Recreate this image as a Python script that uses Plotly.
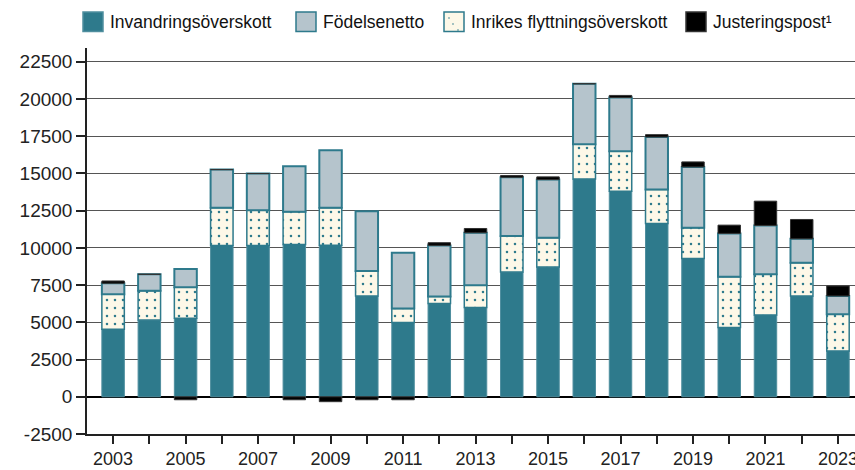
import plotly.graph_objects as go

years = list(range(2003, 2024))
invandring = [4530, 5150, 5270, 10165, 10165, 10230, 10180, 6770, 4985, 6255, 5990,
              8375, 8710, 14630, 13800, 11640, 9290, 4650, 5495, 6770, 3080]
fodelse = [740, 1105, 1230, 2565, 2460, 3060, 3860, 4020, 3755, 3440, 3530,
           3950, 3905, 4070, 3620, 3530, 4085, 2905, 3285, 1605, 1230]
inrikes = [2350, 1970, 2080, 2525, 2365, 2190, 2510, 1670, 935, 470, 1495,
           2415, 1970, 2320, 2680, 2275, 2060, 3415, 2725, 2235, 2460]
justering = [155, 0, -200, 0, 0, -200, -330, -200, -200, 180, 285,
             115, 180, 0, 135, 155, 335, 555, 1630, 1295, 670]
y_ticks = list(range(-2500, 22501, 2500))
y_ticktext = [str(v) for v in y_ticks]
x_ticktext = [str(y) if y % 2 == 1 else "" for y in years]
legend_names = ["Invandringsöverskott", "Födelsenetto", "Inrikes flyttningsöverskott", "Justeringspost¹"]

TEAL = "#2E7A8C"
GREYBLUE = "#B5C4CC"
CREAM = "#FDF8E8"
BLACK = "#000000"
W = 0.62

fig = go.Figure()
fig.add_trace(go.Bar(x=years, y=invandring, name=legend_names[0], width=W,
                     marker=dict(color=TEAL, line=dict(color="#4F8E9E", width=1))))
fig.add_trace(go.Bar(x=years, y=inrikes, name=legend_names[2], width=W,
                     marker=dict(color=CREAM, line=dict(color=TEAL, width=1.5),
                                 pattern=dict(shape=".", fgcolor=TEAL, bgcolor=CREAM,
                                              size=8, solidity=0.08, fillmode="replace"))))
fig.add_trace(go.Bar(x=years, y=fodelse, name=legend_names[1], width=W,
                     marker=dict(color=GREYBLUE, line=dict(color=TEAL, width=2))))
fig.add_trace(go.Bar(x=years, y=justering, name=legend_names[3], width=W,
                     marker=dict(color=BLACK, line=dict(color="#333333", width=1))))

# plot area in pixels: left 87, right 855, top 48, bottom 434
L, R, T, B = 87, 855, 48, 434
PW, PH = R - L, B - T

def px(x):
    return (x - L) / PW

def py(y):
    return (B - y) / PH

shapes = []
annotations = []
legend_items = [
    (83, legend_names[0], TEAL, "#4F8E9E"),
    (296, legend_names[1], GREYBLUE, TEAL),
    (444, legend_names[2], CREAM, TEAL),
    (686, legend_names[3], BLACK, "#333333"),
]
for x0, name, fill, edge in legend_items:
    shapes.append(dict(type="rect", xref="paper", yref="paper",
                       x0=px(x0), x1=px(x0 + 20), y0=py(31.5), y1=py(12),
                       fillcolor=fill, line=dict(color=edge, width=1.5)))
    annotations.append(dict(xref="paper", yref="paper", x=px(x0 + 25), y=py(22),
                            xanchor="left", yanchor="middle", text=name, showarrow=False,
                            font=dict(family="Liberation Sans", size=17.5, color="#111111")))
# a few dots in the patterned legend swatch
for dx, dy in [(5, 6), (9, 12), (14, 18)]:
    shapes.append(dict(type="circle", xref="paper", yref="paper",
                       x0=px(444 + dx - 0.8), x1=px(444 + dx + 0.8),
                       y0=py(12 + dy + 0.8), y1=py(12 + dy - 0.8),
                       fillcolor=TEAL, line=dict(width=0)))

fig.update_layout(
    template="none",
    barmode="relative",
    width=855, height=470,
    margin=dict(l=L, r=855 - R, t=T, b=470 - B),
    paper_bgcolor="white", plot_bgcolor="white",
    showlegend=False,
    shapes=shapes,
    annotations=annotations,
    font=dict(family="Liberation Sans, Arial, sans-serif", size=18, color="#222222"),
    xaxis=dict(range=[2002.28, 2023.47], tickmode="array", tickvals=years, ticktext=x_ticktext,
               showgrid=False, showline=True, linecolor="#222222", linewidth=1.5,
               ticks="outside", ticklen=8, tickwidth=1.5, tickcolor="#222222",
               automargin=False, zeroline=False, tickfont=dict(size=18),
               ticklabeloverflow="allow"),
    yaxis=dict(range=[-2500, 23420], tickmode="array", tickvals=y_ticks, ticktext=y_ticktext,
               showgrid=True, gridcolor="#555555", gridwidth=1.4,
               zeroline=True, zerolinecolor="#000000", zerolinewidth=2,
               showline=True, linecolor="#222222", linewidth=1.5,
               ticks="outside", ticklen=9, tickwidth=1.5, tickcolor="#222222",
               automargin=False, tickfont=dict(size=19)),
)

fig.write_html("out.html", config={"displayModeBar": False},
               post_script="document.body.style.margin='0';")
